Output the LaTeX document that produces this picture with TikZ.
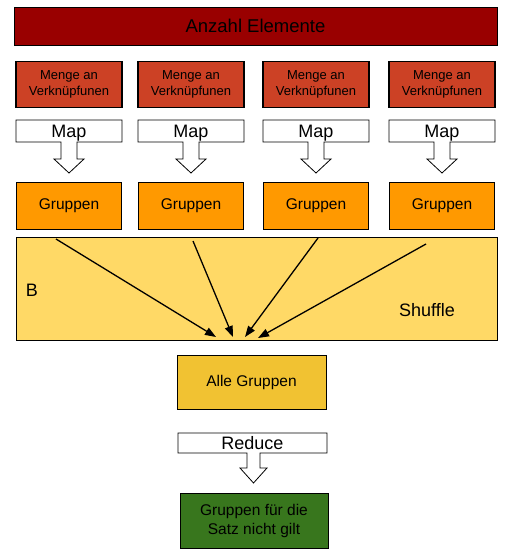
\documentclass[tikz,border=0pt]{standalone}
\usepackage{fontspec}
\setmainfont{Liberation Sans}
\usetikzlibrary{arrows.meta}
\definecolor{titelrot}{HTML}{990000}
\definecolor{mengerot}{HTML}{CC4125}
\definecolor{gruppenorange}{HTML}{FF9900}
\definecolor{shufflegelb}{HTML}{FFD966}
\definecolor{allegelb}{HTML}{F1C232}
\definecolor{satzgruen}{HTML}{38761D}
\begin{document}
\begin{tikzpicture}[x=1pt,y=-1pt,
  box/.style={draw=black,line width=0.8pt,inner sep=0pt,align=center,text=black},
  titel/.style={box,fill=titelrot,minimum width=483pt,minimum height=38pt,font=\fontsize{18.5}{22}\selectfont},
  menge/.style={box,fill=mengerot,line width=1.4pt,minimum width=106pt,minimum height=46pt,font=\fontsize{13}{15.5}\selectfont},
  gruppe/.style={box,fill=gruppenorange,minimum width=105pt,minimum height=47pt,font=\fontsize{15.5}{18}\selectfont},
  blockpfeil/.style={draw=black,line width=0.8pt,fill=white},
  pfeiltext/.style={inner sep=0pt,anchor=base,font=\fontsize{18}{20}\selectfont},
  pfeil/.style={line width=1.3pt,-{Triangle[length=11pt,width=8pt]}}]
\useasboundingbox (0,0) rectangle (505,555);

% oben
\node[titel] (anzahl) at (255.5,26) {Anzahl Elemente};

% vier Spalten: Menge, Map, Gruppen
\foreach \i/\cx in {1/69,2/191,3/316,4/442}{
  \node[menge] (menge\i) at (\cx,84.5) {Menge an\\Verknüpfunen};
  \draw[blockpfeil] (\cx-53,120) -- (\cx+53,120) -- (\cx+53,142) -- (\cx+8,142)
    -- (\cx+8,159) -- (\cx+15,159) -- (\cx,173) -- (\cx-15,159) -- (\cx-8,159)
    -- (\cx-8,142) -- (\cx-53,142) -- cycle;
  \node[pfeiltext] (map\i) at (\cx,137.5) {Map};
  \node[gruppe] (gruppen\i) at (\cx,205.5) {Gruppen};
}

% Shuffle
\node[box,fill=shufflegelb,minimum width=481pt,minimum height=103pt] (shuffle) at (256.5,288.5) {};
\node[pfeiltext] (b) at (32,296.5) {B};
\node[pfeiltext] (shuffletext) at (427,316.5) {Shuffle};
\coordinate (s1) at (56,239);
\coordinate (s2) at (193,241);
\coordinate (s3) at (318,238);
\coordinate (s4) at (426,244);
\coordinate (e1) at (216,337);
\coordinate (e2) at (233,337);
\coordinate (e3) at (245,337);
\coordinate (e4) at (258,338);
\foreach \k in {1,2,3,4}
  \draw[pfeil] (s\k) -- (e\k);

% unten
\node[box,fill=allegelb,minimum width=149pt,minimum height=54pt,font=\fontsize{15.5}{18}\selectfont] (alle) at (251.5,382) {Alle Gruppen};
\draw[blockpfeil] (178,433) -- (327,433) -- (327,453) -- (260,453) -- (260,468)
  -- (267,468) -- (253.5,483) -- (240,468) -- (247,468) -- (247,453)
  -- (178,453) -- cycle;
\node[pfeiltext] (reduce) at (252.5,449.5) {Reduce};
\node[box,fill=satzgruen,minimum width=148pt,minimum height=55pt,font=\fontsize{15.5}{19}\selectfont] (ergebnis) at (254,520.5) {Gruppen für die\\Satz nicht gilt};
\end{tikzpicture}
\end{document}
